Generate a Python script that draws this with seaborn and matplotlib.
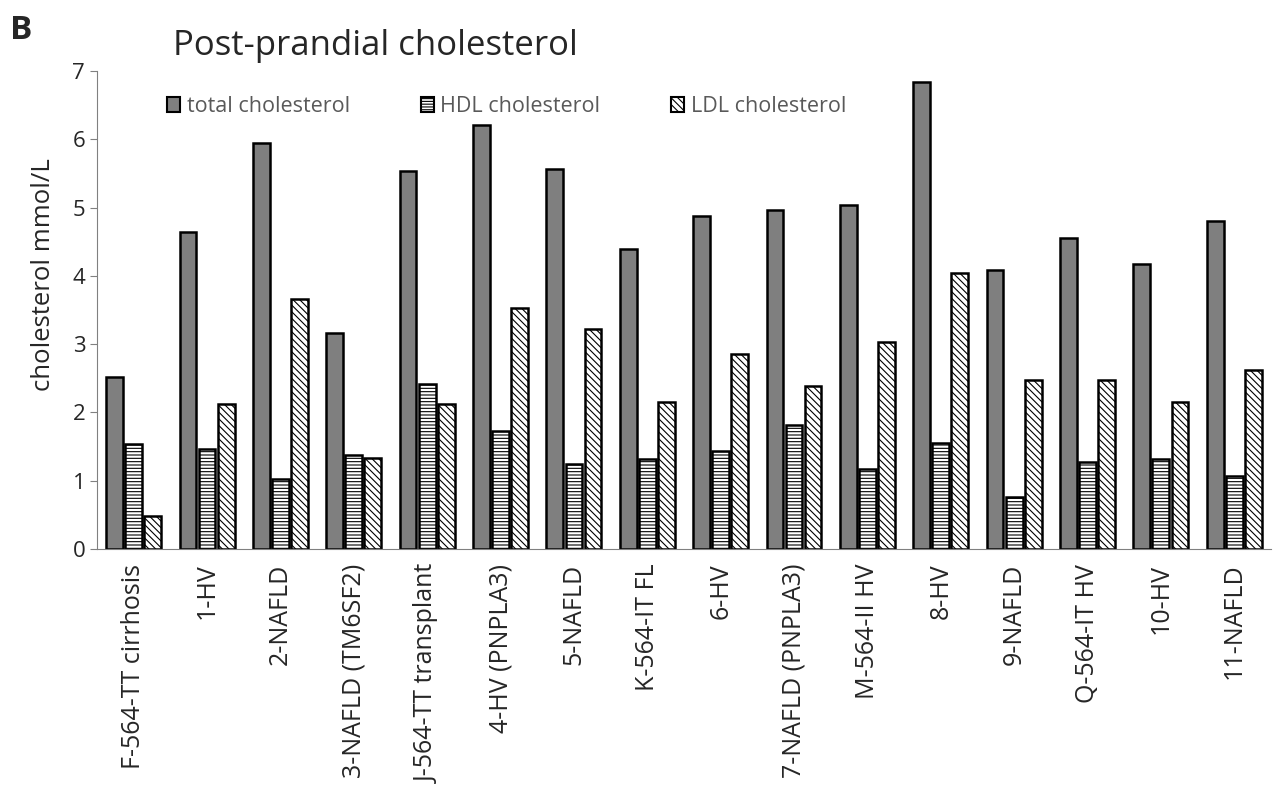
import pandas as pd
import matplotlib.pyplot as plt
import seaborn as sns

# values
samples = ["F-564-TT cirrhosis", "1-HV", "2-NAFLD", "3-NAFLD (TM6SF2)", "J-564-TT transplant",
           "4-HV (PNPLA3)", "5-NAFLD", "K-564-IT FL", "6-HV", "7-NAFLD (PNPLA3)",
           "M-564-II HV", "8-HV", "9-NAFLD", "Q-564-IT HV", "10-HV", "11-NAFLD"]
total_chol = [2.52, 4.64, 5.95, 3.17, 5.53, 6.21, 5.56, 4.39, 4.87, 4.96, 5.04, 6.84, 4.08, 4.56, 4.18, 4.80]
hdl_chol = [1.54, 1.47, 1.03, 1.37, 2.42, 1.73, 1.24, 1.32, 1.44, 1.82, 1.17, 1.56, 0.76, 1.27, 1.32, 1.07]
ldl_chol = [0.49, 2.12, 3.66, 1.34, 2.12, 3.53, 3.22, 2.16, 2.86, 2.39, 3.03, 4.04, 2.47, 2.47, 2.16, 2.62]
series = ["total cholesterol", "HDL cholesterol", "LDL cholesterol"]

df = pd.DataFrame({
    "sample": samples * 3,
    "value": total_chol + hdl_chol + ldl_chol,
    "type": [series[0]] * 16 + [series[1]] * 16 + [series[2]] * 16,
})

sns.set_style("white")
plt.rcParams["font.family"] = ["Open Sans", "DejaVu Sans"]
plt.rcParams["hatch.color"] = "#808080"
plt.rcParams["hatch.linewidth"] = 0.8

fig = plt.figure(figsize=(12.83, 8.11), dpi=100)
ax = fig.add_axes([0.0756, 0.323, 0.915, 0.5895])

pal = {series[0]: "#7f7f7f", series[1]: "white", series[2]: "white"}
sns.barplot(data=df, x="sample", y="value", hue="type", palette=pal, width=0.78, gap=0.12,
            edgecolor="black", linewidth=1.8, ax=ax, legend=True)

hatches = {series[0]: "", series[1]: "-----", series[2]: "\\\\\\\\\\"}
for cont, name in zip(ax.containers, series):
    for bar in cont:
        bar.set_hatch(hatches[name])

ax.set_ylim(0, 7)
ax.set_xlim(-0.5, 15.5)
ax.set_yticks(range(0, 8))
ax.set_xlabel("")
ax.set_ylabel("cholesterol mmol/L", fontsize=18.5)
ax.yaxis.set_label_coords(-0.035, 0.575)
ax.tick_params(axis="y", labelsize=16, left=True, length=5, color="#808080")
ax.tick_params(axis="x", labelsize=18, rotation=90, bottom=False, pad=7)
for s in ["top", "right"]:
    ax.spines[s].set_visible(False)
for s in ["left", "bottom"]:
    ax.spines[s].set_color("#808080")

leg = ax.legend(loc="upper left", bbox_to_anchor=(0.06, 0.948), ncol=3, frameon=False,
                fontsize=15.5, columnspacing=3.3, handlelength=0.6, handleheight=0.7,
                handletextpad=0.3, borderaxespad=0, borderpad=0)
for t in leg.get_texts():
    t.set_color("#595959")
for h, name in zip(leg.legend_handles, series):
    h.set_hatch(hatches[name].replace("-----", "------"))
    h.set_edgecolor("black")
    h.set_linewidth(1.5)

fig.text(0.135, 0.943, "Post-prandial cholesterol", fontsize=25, va="center")
fig.text(0.008, 0.963, "B", fontsize=24, fontweight="bold", va="center")

plt.savefig("out.png", dpi=100)
